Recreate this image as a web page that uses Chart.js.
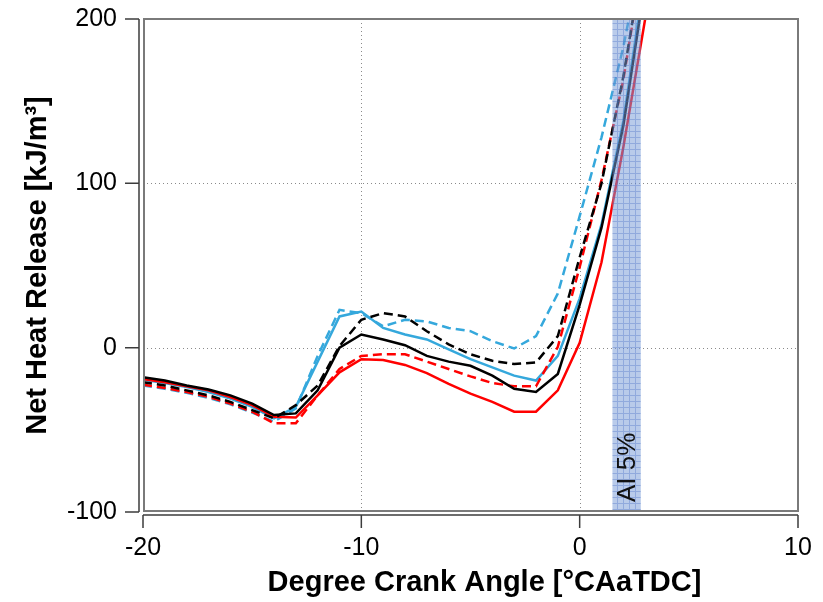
<!DOCTYPE html>
<html>
<head>
<meta charset="utf-8">
<script src="https://cdn.jsdelivr.net/npm/chart.js@4.4.1/dist/chart.umd.min.js"></script>
<style>
  html, body { margin: 0; padding: 0; background: #ffffff; }
  #wrap { width: 823px; height: 602px; }
</style>
</head>
<body>
<div id="wrap"><canvas id="c" width="823" height="602"></canvas></div>
<script>
// Crank angle positions (°CA after TDC)
const crankAngle = [-20, -19, -18, -17, -16, -15, -14, -13, -12, -11, -10, -9, -8, -7, -6, -5, -4, -3, -2, -1, 0, 1, 2, 3];

// Net heat release curves [kJ/m³]
const blackSolid  = [-18, -20, -23, -25.5, -29, -34, -41, -40, -26, 0, 8, 5, 1.5, -5, -8.5, -11, -17, -25, -27, -16, 26, 73, 135, 222];
const blackDashed = [-21, -23, -26, -29, -33, -38, -43, -35, -23, 1, 17, 21, 19, 10, 2, -4, -8, -10, -9, 7, 55, 100, 165, 245];
const redSolid    = [-19, -21, -23.5, -26, -30, -35, -42, -42.5, -29, -15, -7, -7.5, -10.5, -15.5, -22, -28, -33, -39, -39, -26, 3, 52, 122, 200];
const redDashed   = [-22.5, -24.5, -27, -30, -34, -39, -46, -46, -29, -13, -5, -4, -4, -8.5, -13, -17.5, -21.5, -23.5, -23.5, 0.5, 49, 102, 163, 245];
const blueSolid   = [-19.5, -21.5, -24, -27, -31, -36, -43, -36, -8.5, 19, 22, 12, 8, 5, -1, -7, -12, -17, -20, -5, 30, 75, 138, 228];
const blueDashed  = [-23, -25, -27.5, -30.5, -34.5, -39.5, -45, -37, -5, 23, 21, 13, 17, 16, 12, 10, 4, -0.5, 7, 33, 80, 128, 183, 250];

// Axis ticks
const xTicks = [-20, -10, 0, 10];
const yTicks = [-100, 0, 100, 200];

// AI 5% window (°CA)
const ai5Range = [1.5, 2.8];
const ai5Label = 'AI 5%';

const xTitle = 'Degree Crank Angle [°CAaTDC]';
const yTitle = 'Net Heat Release [kJ/m³]';

const FONT = '"Liberation Sans", Arial, Helvetica, sans-serif';
const BLUE = '#35a8dc';

function series(values) {
  return crankAngle.map((a, i) => ({ x: a, y: values[i] }));
}

function lineSet(label, values, color, dashed) {
  return {
    label,
    data: series(values),
    borderColor: color,
    backgroundColor: color,
    borderWidth: 2.5,
    borderDash: dashed ? [9, 5] : [],
    pointRadius: 0,
    tension: 0,
    fill: false
  };
}

// Dotted grid, the AI 5% band, the plot frame, the offset axes and the x title
const frameAndAxes = {
  id: 'frameAndAxes',
  beforeDatasetsDraw(chart) {
    const { ctx, chartArea: a, scales: { x, y } } = chart;
    ctx.save();
    ctx.strokeStyle = '#8a8a8a';
    ctx.lineWidth = 1;
    ctx.setLineDash([1, 3]);
    xTicks.forEach(v => {
      if (v <= x.min || v >= x.max) return;
      const px = Math.round(x.getPixelForValue(v)) + 0.5;
      ctx.beginPath(); ctx.moveTo(px, a.top); ctx.lineTo(px, a.bottom); ctx.stroke();
    });
    yTicks.forEach(v => {
      if (v <= y.min || v >= y.max) return;
      const py = Math.round(y.getPixelForValue(v)) + 0.5;
      ctx.beginPath(); ctx.moveTo(a.left, py); ctx.lineTo(a.right, py); ctx.stroke();
    });
    ctx.restore();
  },
  afterDatasetsDraw(chart) {
    const { ctx, chartArea: a, scales: { x, y } } = chart;
    ctx.save();

    // AI 5% band with a fine blue mesh
    const x0 = x.getPixelForValue(ai5Range[0]);
    const x1 = x.getPixelForValue(ai5Range[1]);
    const tile = document.createElement('canvas');
    tile.width = 6; tile.height = 6;
    const tc = tile.getContext('2d');
    tc.fillStyle = 'rgba(120,155,215,0.52)';
    tc.fillRect(0, 0, 6, 6);
    tc.fillStyle = 'rgba(70,110,195,0.35)';
    tc.fillRect(0, 5, 6, 1);
    tc.fillRect(5, 0, 1, 5);
    ctx.fillStyle = ctx.createPattern(tile, 'repeat');
    ctx.fillRect(x0, a.top, x1 - x0, a.bottom - a.top);

    ctx.translate((x0 + x1) / 2, a.bottom - 10);
    ctx.rotate(-Math.PI / 2);
    ctx.fillStyle = '#111111';
    ctx.font = '26px ' + FONT;
    ctx.textAlign = 'left';
    ctx.textBaseline = 'middle';
    ctx.fillText(ai5Label, 0, 1);
    ctx.setTransform(1, 0, 0, 1, 0, 0);

    // Plot frame
    ctx.strokeStyle = '#7a7a7a';
    ctx.lineWidth = 2;
    ctx.strokeRect(a.left + 1, a.top, a.right - a.left - 1, a.bottom - a.top - 1);

    // Offset axis lines with outward ticks
    ctx.strokeStyle = '#3c3c3c';
    ctx.lineWidth = 1.5;
    const axX = a.left - 4;
    const axY = a.bottom + 3;
    ctx.beginPath();
    ctx.moveTo(axX, y.getPixelForValue(y.max));
    ctx.lineTo(axX, y.getPixelForValue(y.min));
    yTicks.forEach(v => {
      const py = y.getPixelForValue(v);
      ctx.moveTo(axX, py); ctx.lineTo(axX - 14, py);
    });
    ctx.moveTo(x.getPixelForValue(x.min), axY);
    ctx.lineTo(x.getPixelForValue(x.max), axY);
    xTicks.forEach(v => {
      const px = x.getPixelForValue(v);
      ctx.moveTo(px, axY); ctx.lineTo(px, axY + 13);
    });
    ctx.stroke();

    // X axis title
    ctx.fillStyle = '#000';
    ctx.font = 'bold 29px ' + FONT;
    ctx.textAlign = 'center';
    ctx.textBaseline = 'middle';
    ctx.fillText(xTitle, (a.left + a.right) / 2 + 14, 583);
    ctx.restore();
  }
};

new Chart(document.getElementById('c'), {
  type: 'line',
  data: {
    datasets: [
      lineSet('Black, solid', blackSolid, '#000000', false),
      lineSet('Black, dashed', blackDashed, '#000000', true),
      lineSet('Red, solid', redSolid, '#ff0000', false),
      lineSet('Red, dashed', redDashed, '#ff0000', true),
      lineSet('Blue, solid', blueSolid, BLUE, false),
      lineSet('Blue, dashed', blueDashed, BLUE, true)
    ]
  },
  options: {
    responsive: false,
    devicePixelRatio: 1,
    animation: false,
    layout: { padding: { top: 19, right: 25, left: 0, bottom: 0 } },
    plugins: { legend: { display: false }, tooltip: { enabled: false } },
    scales: {
      x: {
        type: 'linear',
        min: -20, max: 10,
        afterBuildTicks: s => { s.ticks = xTicks.map(v => ({ value: v })); },
        afterFit: s => { s.height = 90; s.paddingLeft = 0; s.paddingRight = 0; },
        grid: { display: false, drawTicks: false },
        border: { display: false },
        ticks: { color: '#000', font: { family: FONT, size: 25 }, padding: 21 }
      },
      y: {
        type: 'linear',
        min: -100, max: 200,
        afterBuildTicks: s => { s.ticks = yTicks.map(v => ({ value: v })); },
        afterFit: s => { s.width = 143; s.paddingTop = 0; s.paddingBottom = 0; },
        grid: { display: false, drawTicks: false },
        border: { display: false },
        ticks: { color: '#000', font: { family: FONT, size: 25 }, padding: 26 },
        title: {
          display: true,
          text: yTitle,
          color: '#000',
          font: { family: FONT, size: 29, weight: 'bold' },
          padding: { top: 21, bottom: 0 }
        }
      }
    }
  },
  plugins: [frameAndAxes]
});
</script>
</body>
</html>
